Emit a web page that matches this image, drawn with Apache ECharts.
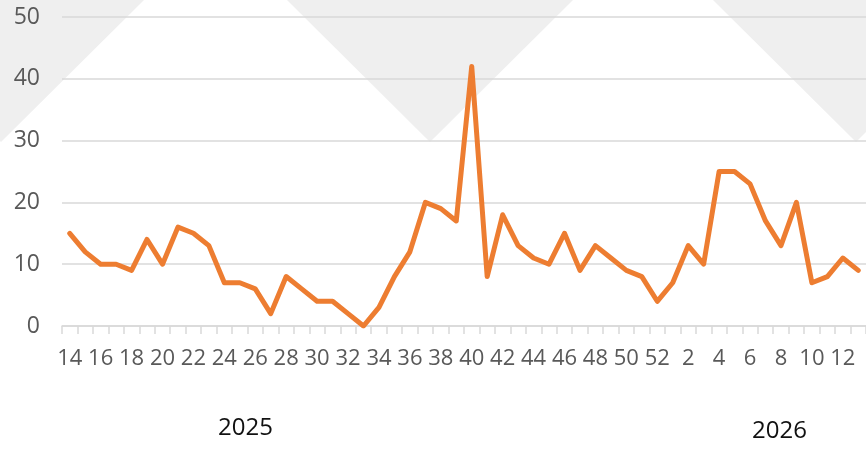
<!DOCTYPE html>
<html>
<head>
<meta charset="utf-8">
<script src="https://cdn.jsdelivr.net/npm/echarts@6/dist/echarts.min.js"></script>
<style>
html,body{margin:0;padding:0;background:#fff;}
#main{width:866px;height:450px;}
</style>
</head>
<body>
<div id="main"></div>
<script>
// weeks: 14..52 of 2025, then 1..13 of 2026
var weeks2025 = [14,15,16,17,18,19,20,21,22,23,24,25,26,27,28,29,30,31,32,33,34,35,36,37,38,39,40,41,42,43,44,45,46,47,48,49,50,51,52];
var weeks2026 = [1,2,3,4,5,6,7,8,9,10,11,12,13];
var values = [15,12,10,10,9,14,10,16,15,13,7,7,6,2,8,6,4,4,2,0,3,8,12,20,19,17,42,8,18,13,11,10,15,9,13,11,9,8,4,
              7,13,10,25,25,23,17,13,20,7,8,11,9];
var yearLabels = ['2025', '2026'];

var weeks = weeks2025.concat(weeks2026).map(String);
var myChart = echarts.init(document.getElementById('main'));
var font = '"Open Sans", "Noto Sans", sans-serif';

// grey triangles of the backdrop
function tri(cx){
	return {
		type: 'polygon', z: -10, silent: true,
		shape: {points: [[cx - 143, 0], [cx + 143, 0], [cx, 142]]},
		style: {fill: '#efefef'}
	};
}

var option = {
	animation: false,
	backgroundColor: '#fff',
	grid: {left: 62, right: 0, top: 17, bottom: 124},
	graphic: [
		tri(1), tri(430), tri(856),
		{type: 'text', left: 218, top: 416, style: {text: yearLabels[0], font: '24px ' + font, fill: '#111'}},
		{type: 'text', left: 752, top: 419, style: {text: yearLabels[1], font: '24px ' + font, fill: '#111'}}
	],
	xAxis: {
		type: 'category',
		data: weeks,
		boundaryGap: true,
		axisLine: {lineStyle: {color: '#d9d9d9', width: 1.5}},
		axisTick: {show: true, interval: 0, length: 8, lineStyle: {color: '#d9d9d9', width: 1.5}},
		axisLabel: {interval: 1, color: '#595959', fontSize: 22, fontFamily: font, margin: 22}
	},
	yAxis: {
		type: 'value',
		min: 0, max: 50, interval: 10,
		axisLine: {show: false},
		axisTick: {show: false},
		axisLabel: {color: '#595959', fontSize: 23, fontFamily: font, margin: 22},
		splitLine: {lineStyle: {color: '#d9d9d9', width: 1.5}}
	},
	series: [{
		type: 'line',
		data: values,
		symbol: 'none',
		lineStyle: {color: '#ed7d31', width: 5, cap: 'round', join: 'round'}
	}]
};
myChart.setOption(option);
</script>
</body>
</html>
